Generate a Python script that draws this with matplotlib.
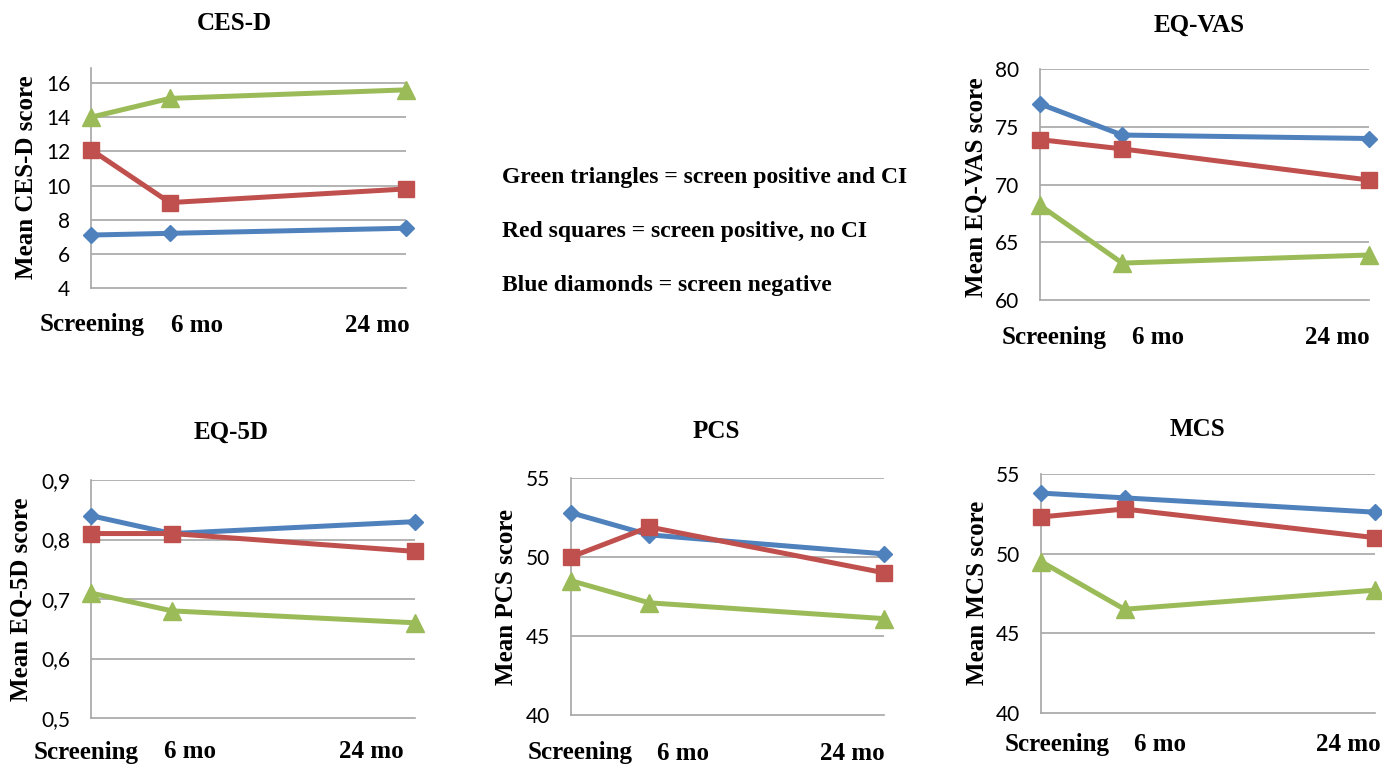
import matplotlib.pyplot as plt
from matplotlib import transforms

# -------------------------------
# Data
# -------------------------------
MONTHS = [0, 6, 24]
X_LABELS = ["Screening", "6 mo", "24 mo"]

cesd_blue = [7.1, 7.2, 7.5]
cesd_red = [12.1, 9.0, 9.8]
cesd_green = [14.0, 15.1, 15.6]
cesd_ticks = [4, 6, 8, 10, 12, 14, 16]

vas_blue = [77.0, 74.3, 74.0]
vas_red = [73.9, 73.1, 70.4]
vas_green = [68.2, 63.2, 63.9]
vas_ticks = [60, 65, 70, 75, 80]

eq5d_blue = [0.84, 0.81, 0.83]
eq5d_red = [0.81, 0.81, 0.78]
eq5d_green = [0.71, 0.68, 0.66]
eq5d_ticks = [0.5, 0.6, 0.7, 0.8, 0.9]
eq5d_tick_labels = ["0,5", "0,6", "0,7", "0,8", "0,9"]

pcs_blue = [52.8, 51.4, 50.2]
pcs_red = [50.0, 51.9, 49.0]
pcs_green = [48.5, 47.1, 46.1]
pcs_ticks = [40, 45, 50, 55]

mcs_blue = [53.8, 53.5, 52.6]
mcs_red = [52.3, 52.8, 51.0]
mcs_green = [49.5, 46.5, 47.7]
mcs_ticks = [40, 45, 50, 55]

LEGEND_LINES = [
    "Green triangles = screen positive and CI",
    "Red squares = screen positive, no CI",
    "Blue diamonds = screen negative",
]

# -------------------------------
# Style
# -------------------------------
W, H = 1382, 765
BLUE = "#4F81BD"
RED = "#C0504D"
GREEN = "#9BBB59"
GRID = "#A6A6A6"
SERIF = "Liberation Serif"
TICK_FONT = "Lato"

fig = plt.figure(figsize=(W / 100, H / 100), dpi=100)


def fig_xy(x, y):
    return x / W, 1 - y / H


def make_panel(box, ylim, ticks, tick_labels, series, title, title_xy,
               ylabel, ylabel_xy, label_dy, label_dx):
    left, top, right, bottom = box
    ax = fig.add_axes([left / W, 1 - bottom / H, (right - left) / W, (bottom - top) / H])
    ax.set_xlim(0, 24)
    ax.set_ylim(*ylim)
    ax.set_xticks([])
    ax.set_yticks(ticks)
    ax.set_yticklabels(tick_labels, fontfamily=TICK_FONT, fontsize=15)
    ax.tick_params(axis="y", length=0, pad=15)
    for t in ticks[1:]:
        ax.axhline(t, color=GRID, lw=1.2, zorder=1)
    for side in ["top", "right"]:
        ax.spines[side].set_visible(False)
    for side in ["left", "bottom"]:
        ax.spines[side].set_color(GRID)
        ax.spines[side].set_linewidth(1.2)

    blue, red, green = series
    ax.plot(MONTHS, blue, color=BLUE, lw=3.6, marker="D", ms=8, clip_on=False, zorder=3)
    ax.plot(MONTHS, red, color=RED, lw=3.6, marker="s", ms=11.5, clip_on=False, zorder=4)
    ax.plot(MONTHS, green, color=GREEN, lw=3.6, marker="^", ms=12.5, clip_on=False, zorder=5)

    # category labels typed under the plot area
    has = ["center", "left", "right"]
    for m, lab, ha, dx in zip(MONTHS, X_LABELS, has, label_dx):
        tr = transforms.offset_copy(ax.get_xaxis_transform(), fig=fig,
                                    x=dx, y=-label_dy, units="dots")
        ax.text(m, 0, lab, transform=tr, ha=ha, va="center", fontfamily=SERIF,
                fontweight="bold", fontsize=18, clip_on=False)

    fig.text(*fig_xy(*title_xy), title, ha="center", va="center",
             fontfamily=SERIF, fontweight="bold", fontsize=18)
    fig.text(*fig_xy(*ylabel_xy), ylabel, ha="center", va="center", rotation=90,
             fontfamily=SERIF, fontweight="bold", fontsize=18)
    return ax


make_panel((91, 68, 406, 288), (4, 16.88), cesd_ticks, [str(t) for t in cesd_ticks],
           (cesd_blue, cesd_red, cesd_green), "CES-D", (234, 23),
           "Mean CES-D score", (27, 177), 37, (1, 1, 4))

make_panel((1040, 69.3, 1369, 300), (60, 80), vas_ticks, [str(t) for t in vas_ticks],
           (vas_blue, vas_red, vas_green), "EQ-VAS", (1199, 25),
           "Mean EQ-VAS score", (976, 187), 38, (14, 10, 1))

make_panel((91, 480, 415, 718), (0.5, 0.9), eq5d_ticks, eq5d_tick_labels,
           (eq5d_blue, eq5d_red, eq5d_green), "EQ-5D", (231, 432),
           "Mean EQ-5D score", (21, 599), 34, (-5, -8, -11))

make_panel((571, 478, 884, 715), (40, 55), pcs_ticks, [str(t) for t in pcs_ticks],
           (pcs_blue, pcs_red, pcs_green), "PCS", (716, 432),
           "Mean PCS score", (507, 597), 38, (9, 8, 1))

make_panel((1041, 474, 1375, 712.7), (40, 55), mcs_ticks, [str(t) for t in mcs_ticks],
           (mcs_blue, mcs_red, mcs_green), "MCS", (1197, 430),
           "Mean MCS score", (977, 593), 32, (16, 10, 6))

# text legend in the middle of the top row
for line, y in zip(LEGEND_LINES, [177, 232, 285]):
    fig.text(*fig_xy(502, y), line, ha="left", va="center",
             fontfamily=SERIF, fontweight="bold", fontsize=17)

fig.savefig("out.png", dpi=100)
